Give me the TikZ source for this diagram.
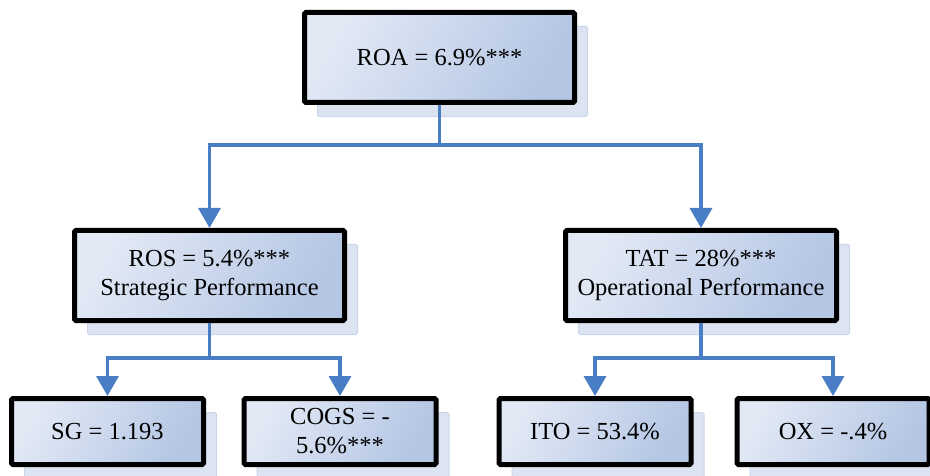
\documentclass[tikz,border=0pt]{standalone}
\usepackage{fontspec}
\setmainfont{Liberation Serif}
\usetikzlibrary{arrows.meta,shadows}
\definecolor{linkblue}{RGB}{74,126,196}
\definecolor{boxlight}{RGB}{226,233,245}
\definecolor{boxdark}{RGB}{180,198,228}
\definecolor{shadowfill}{RGB}{220,228,242}
\definecolor{shadowedge}{RGB}{203,214,234}
\tikzset{
  ratio/.style={draw=black, line width=5pt, rounded corners=1.5pt,
    left color=boxlight, right color=boxdark, shading angle=60,
    align=center, inner sep=0pt,
    font=\fontsize{24.5}{29}\selectfont,
    general shadow={shadow xshift=13pt, shadow yshift=-14pt,
      fill=shadowfill, draw=shadowedge, line width=1pt}},
  bigratio/.style={ratio, minimum width=270pt, minimum height=90pt},
  smallratio/.style={ratio, minimum width=192pt, minimum height=66pt},
  link/.style={draw=linkblue, line width=3.5pt},
  arrow/.style={link, -{Triangle[width=22pt,length=20pt]}}
}
\begin{document}
\begin{tikzpicture}[x=1pt,y=-1pt]
	\useasboundingbox (0,0) rectangle (930,476);
	\clip (0,0) rectangle (930,476);
	\node[bigratio] (roa) at (439.5, 57.5)	{ROA = 6.9\%***};
	\node[bigratio] (ros) at (209.5,275.5)	{ROS = 5.4\%***\\Strategic Performance};
	\node[bigratio,minimum width=271pt] (tat) at (701,275.5)	{TAT = 28\%***\\Operational Performance};
	\node[smallratio] (sg)   at (107.5,431.5)	{SG = 1.193};
	\node[smallratio] (cogs) at (340,  431.5)	{COGS = -\\5.6\%***};
	\node[smallratio] (ito)  at (595,  431.5)	{ITO = 53.4\%};
	\node[smallratio] (ox)   at (833,  431.5)	{OX = -.4\%};

	\coordinate (s0) at (439.5,145);
	\coordinate (s1) at (209.5,358);
	\coordinate (s2) at (701,  358);

	\def\stems {roa/s0, ros/s1, tat/s2}  % vertical stems
	\foreach \u\v in \stems
	{	\draw[link] (\u.south) -- (\v);
	}
	\def\branches {s0/ros, s0/tat, s1/sg, s1/cogs, s2/ito, s2/ox}  % arrows down
	\foreach \u\v in \branches
	{	\draw[arrow] (\u) -| (\v.north);
	}
\end{tikzpicture}
\end{document}
